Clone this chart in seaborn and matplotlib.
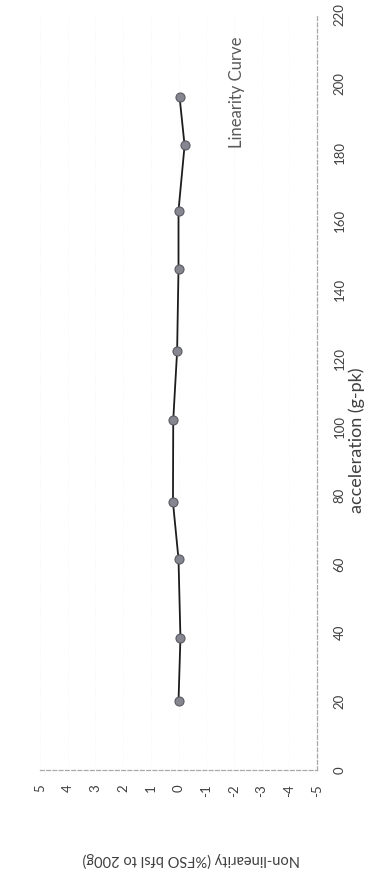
import matplotlib
matplotlib.use("Agg")
import matplotlib.pyplot as plt
import seaborn as sns
import pandas as pd

# ---- data read from the (rotated) reference ----
acceleration = [20, 38.5, 61.5, 78, 102, 122, 146, 163, 182, 196]
non_linearity = [0.0, -0.07, 0.0, 0.2, 0.19, 0.05, 0.0, 0.0, -0.22, -0.04]
accel_ticks = [0, 20, 40, 60, 80, 100, 120, 140, 160, 180, 200, 220]
nonlin_ticks = [5, 4, 3, 2, 1, 0, -1, -2, -3, -4, -5]
title_text = "Linearity Curve"
accel_label = "acceleration (g-pk)"
nonlin_label = "Non-linearity (%FSO bfsl to 200g)"

sns.set_theme(style="white")
plt.rcParams['font.family'] = ['Lato', 'DejaVu Sans']

W, H = 366, 871
fig = plt.figure(figsize=(W / 100, H / 100), dpi=100)
fig.patch.set_facecolor("white")

# plot area: nonlinearity 5 at x=40px, -5 at x=317px ; acceleration 0 at y=770px, 220 at y=15px
ax = fig.add_axes([40 / W, (H - 770) / H, 277 / W, 755 / H])

df = pd.DataFrame({"nl": non_linearity, "acc": acceleration})
sns.lineplot(data=df, x="nl", y="acc", sort=False, orient="y", ax=ax,
             color="#1c1c1c", lw=1.3, marker="o", markersize=6.5,
             markerfacecolor="#868690", markeredgecolor="#5a5a62",
             markeredgewidth=0.8)

ax.set_xlim(5, -5)
ax.set_ylim(0, 220)

# axes / spines
for s in ["top", "left"]:
    ax.spines[s].set_visible(False)
for s in ["right", "bottom"]:
    ax.spines[s].set_color("#a8a8a8")
    ax.spines[s].set_linewidth(0.9)
    ax.spines[s].set_linestyle((0, (3, 2)))

ax.grid(axis="x", color="#f3f3f3", lw=0.6, ls=":")
ax.grid(axis="y", visible=False)

tick_color = "#404040"
ax.yaxis.tick_right()
ax.yaxis.set_label_position("right")
ax.set_yticks(accel_ticks)
ax.set_yticklabels([str(t) for t in accel_ticks], rotation=90, va="center",
                   fontsize=9.5, color=tick_color)
ax.set_xticks(nonlin_ticks)
ax.set_xticklabels([str(t) for t in nonlin_ticks], rotation=90, ha="center",
                   va="top", fontsize=9.5, color=tick_color)
ax.tick_params(axis="y", length=0, pad=12)
ax.tick_params(axis="x", length=0, pad=10)

ax.set_ylabel(accel_label, rotation=90, rotation_mode="anchor", ha="center",
              va="center", fontsize=13, color=tick_color)
ax.yaxis.set_label_coords((357 - 40) / 277, (770 - 440) / 755)

ax.set_xlabel(nonlin_label, rotation=180, rotation_mode="anchor", ha="center",
              va="center", fontsize=10.5, color=tick_color)
ax.xaxis.set_label_coords((191 - 40) / 277, (770 - 860) / 755)

fig.text(237 / W, 1 - 92 / H, title_text, rotation=90, ha="center", va="center",
         fontsize=12, color="#595959")

fig.savefig("out.png", dpi=100, facecolor="white")
